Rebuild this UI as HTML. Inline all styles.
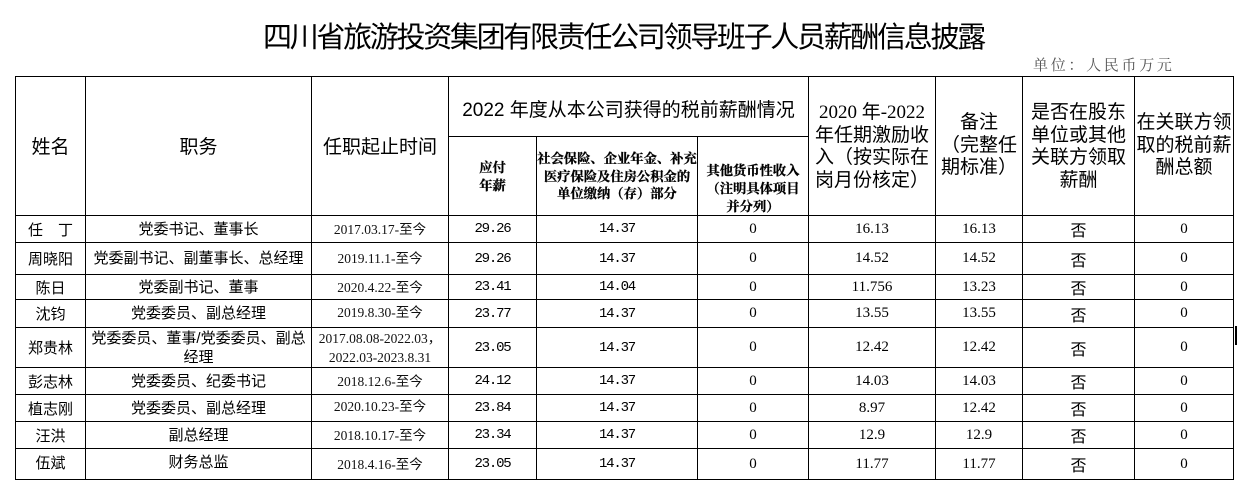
<!DOCTYPE html>
<html>
<head>
<meta charset="utf-8">
<style>
  html,body{margin:0;padding:0;background:#fff;}
  body{width:1240px;height:490px;position:relative;overflow:hidden;
       font-family:"Liberation Sans","Noto Sans CJK SC",sans-serif;color:#000;}
  .c{position:absolute;box-sizing:border-box;border:1px solid #000;
     display:flex;align-items:center;justify-content:center;text-align:center;}
  .h{font-size:19px;line-height:22.5px;}
  .sb{font-family:"Liberation Serif","Noto Serif CJK SC",serif;font-weight:bold;font-size:13.3px;line-height:17.5px;-webkit-text-stroke:0.3px #000;}
  .nm{font-size:15px;}
  .pos{font-size:15px;line-height:19px;white-space:nowrap;}
  .dt{font-family:"Liberation Serif","Noto Sans CJK SC",sans-serif;font-size:13.5px;line-height:19px;color:#111;}
  .mo{font-family:"Liberation Mono",monospace;font-size:14px;letter-spacing:-1.2px;}
  .sf{font-family:"Liberation Serif",serif;font-size:15px;}
  .no{font-family:"Noto Sans CJK SC",sans-serif;font-size:16px;}
  .title{position:absolute;left:263px;top:20px;font-size:29px;line-height:30px;white-space:nowrap;letter-spacing:-2.3px;
         font-family:"Noto Sans CJK SC",sans-serif;}
  .unit{position:absolute;left:1033px;top:55px;font-size:15px;line-height:20px;letter-spacing:2.7px;
        color:#555;white-space:nowrap;font-family:"Noto Serif CJK SC",serif;}
</style>
</head>
<body>
<div class="title">四川省旅游投资集团有限责任公司领导班子人员薪酬信息披露</div>
<div class="unit">单位：人民币万元</div>

<!-- header -->
<div class="c h" style="left:15px;top:76px;width:71px;height:140px;padding-top:4px;">姓名</div>
<div class="c h" style="left:85px;top:76px;width:227px;height:140px;padding-top:4px;">职务</div>
<div class="c h" style="left:311px;top:76px;width:138px;height:140px;padding-top:4px;">任职起止时间</div>
<div class="c h" style="left:448px;top:76px;width:361px;height:61px;padding-top:10px;font-size:19px;">2022 年度从本公司获得的税前薪酬情况</div>
<div class="c sb" style="left:448px;top:136px;width:89px;height:80px;line-height:18px;padding-top:2px;">应付<br>年薪</div>
<div class="c sb" style="left:536px;top:136px;width:162px;height:80px;padding-top:1px;">社会保险、企业年金、补充<br>医疗保险及住房公积金的<br>单位缴纳（存）部分</div>
<div class="c sb" style="left:697px;top:136px;width:112px;height:80px;padding-top:25px;line-height:18px;">其他货币性收入<br>（注明具体项目<br>并分列）</div>
<div class="c h" style="left:808px;top:76px;width:128px;height:140px;font-family:'Liberation Serif','Noto Sans CJK SC',sans-serif;padding-top:2px;">2020 年-2022<br>年任期激励收<br>入（按实际在<br>岗月份核定）</div>
<div class="c h" style="left:935px;top:76px;width:88px;height:140px;">备注<br>（完整任<br>期标准）</div>
<div class="c h" style="left:1022px;top:76px;width:113px;height:140px;padding-top:2px;">是否在股东<br>单位或其他<br>关联方领取<br>薪酬</div>
<div class="c h" style="left:1134px;top:76px;width:100px;height:140px;">在关联方领<br>取的税前薪<br>酬总额</div>

<!-- rows -->
<!-- row1 215-242 -->
<div class="c nm" style="left:15px;top:215px;width:71px;height:28px;">任　丁</div>
<div class="c pos" style="left:85px;top:215px;width:227px;height:28px;">党委书记、董事长</div>
<div class="c dt" style="left:311px;top:215px;width:138px;height:28px;">2017.03.17-至今</div>
<div class="c mo" style="left:448px;top:215px;width:89px;height:28px;">29.26</div>
<div class="c mo" style="left:536px;top:215px;width:162px;height:28px;">14.37</div>
<div class="c sf" style="left:697px;top:215px;width:112px;height:28px;">0</div>
<div class="c sf" style="left:808px;top:215px;width:128px;height:28px;">16.13</div>
<div class="c sf" style="left:935px;top:215px;width:88px;height:28px;">16.13</div>
<div class="c no" style="left:1022px;top:215px;width:113px;height:28px;">否</div>
<div class="c sf" style="left:1134px;top:215px;width:100px;height:28px;">0</div>

<!-- row2 242-274 -->
<div class="c nm" style="left:15px;top:242px;width:71px;height:33px;">周晓阳</div>
<div class="c pos" style="left:85px;top:242px;width:227px;height:33px;">党委副书记、副董事长、总经理</div>
<div class="c dt" style="left:311px;top:242px;width:138px;height:33px;">2019.11.1-至今</div>
<div class="c mo" style="left:448px;top:242px;width:89px;height:33px;">29.26</div>
<div class="c mo" style="left:536px;top:242px;width:162px;height:33px;">14.37</div>
<div class="c sf" style="left:697px;top:242px;width:112px;height:33px;">0</div>
<div class="c sf" style="left:808px;top:242px;width:128px;height:33px;">14.52</div>
<div class="c sf" style="left:935px;top:242px;width:88px;height:33px;">14.52</div>
<div class="c no" style="left:1022px;top:242px;width:113px;height:33px;">否</div>
<div class="c sf" style="left:1134px;top:242px;width:100px;height:33px;">0</div>

<!-- row3 274-299 -->
<div class="c nm" style="left:15px;top:274px;width:71px;height:26px;">陈日</div>
<div class="c pos" style="left:85px;top:274px;width:227px;height:26px;">党委副书记、董事</div>
<div class="c dt" style="left:311px;top:274px;width:138px;height:26px;">2020.4.22-至今</div>
<div class="c mo" style="left:448px;top:274px;width:89px;height:26px;">23.41</div>
<div class="c mo" style="left:536px;top:274px;width:162px;height:26px;">14.04</div>
<div class="c sf" style="left:697px;top:274px;width:112px;height:26px;">0</div>
<div class="c sf" style="left:808px;top:274px;width:128px;height:26px;">11.756</div>
<div class="c sf" style="left:935px;top:274px;width:88px;height:26px;">13.23</div>
<div class="c no" style="left:1022px;top:274px;width:113px;height:26px;">否</div>
<div class="c sf" style="left:1134px;top:274px;width:100px;height:26px;">0</div>

<!-- row4 299-327 -->
<div class="c nm" style="left:15px;top:299px;width:71px;height:29px;">沈钧</div>
<div class="c pos" style="left:85px;top:299px;width:227px;height:29px;">党委委员、副总经理</div>
<div class="c dt" style="left:311px;top:299px;width:138px;height:29px;padding-bottom:3px;">2019.8.30-至今</div>
<div class="c mo" style="left:448px;top:299px;width:89px;height:29px;">23.77</div>
<div class="c mo" style="left:536px;top:299px;width:162px;height:29px;">14.37</div>
<div class="c sf" style="left:697px;top:299px;width:112px;height:29px;">0</div>
<div class="c sf" style="left:808px;top:299px;width:128px;height:29px;">13.55</div>
<div class="c sf" style="left:935px;top:299px;width:88px;height:29px;">13.55</div>
<div class="c no" style="left:1022px;top:299px;width:113px;height:29px;">否</div>
<div class="c sf" style="left:1134px;top:299px;width:100px;height:29px;">0</div>

<!-- row5 327-367 -->
<div class="c nm" style="left:15px;top:327px;width:71px;height:41px;">郑贵林</div>
<div class="c pos" style="left:85px;top:327px;width:227px;height:41px;">党委委员、董事/党委委员、副总<br>经理</div>
<div class="c dt" style="left:311px;top:327px;width:138px;height:41px;">2017.08.08-2022.03，<br>2022.03-2023.8.31</div>
<div class="c mo" style="left:448px;top:327px;width:89px;height:41px;">23.05</div>
<div class="c mo" style="left:536px;top:327px;width:162px;height:41px;">14.37</div>
<div class="c sf" style="left:697px;top:327px;width:112px;height:41px;">0</div>
<div class="c sf" style="left:808px;top:327px;width:128px;height:41px;">12.42</div>
<div class="c sf" style="left:935px;top:327px;width:88px;height:41px;">12.42</div>
<div class="c no" style="left:1022px;top:327px;width:113px;height:41px;">否</div>
<div class="c sf" style="left:1134px;top:327px;width:100px;height:41px;">0</div>

<!-- row6 367-394 -->
<div class="c nm" style="left:15px;top:367px;width:71px;height:28px;">彭志林</div>
<div class="c pos" style="left:85px;top:367px;width:227px;height:28px;">党委委员、纪委书记</div>
<div class="c dt" style="left:311px;top:367px;width:138px;height:28px;">2018.12.6-至今</div>
<div class="c mo" style="left:448px;top:367px;width:89px;height:28px;">24.12</div>
<div class="c mo" style="left:536px;top:367px;width:162px;height:28px;">14.37</div>
<div class="c sf" style="left:697px;top:367px;width:112px;height:28px;">0</div>
<div class="c sf" style="left:808px;top:367px;width:128px;height:28px;">14.03</div>
<div class="c sf" style="left:935px;top:367px;width:88px;height:28px;">14.03</div>
<div class="c no" style="left:1022px;top:367px;width:113px;height:28px;">否</div>
<div class="c sf" style="left:1134px;top:367px;width:100px;height:28px;">0</div>

<!-- row7 394-421 -->
<div class="c nm" style="left:15px;top:394px;width:71px;height:28px;">植志刚</div>
<div class="c pos" style="left:85px;top:394px;width:227px;height:28px;">党委委员、副总经理</div>
<div class="c dt" style="left:311px;top:394px;width:138px;height:28px;padding-bottom:4px;">2020.10.23-至今</div>
<div class="c mo" style="left:448px;top:394px;width:89px;height:28px;">23.84</div>
<div class="c mo" style="left:536px;top:394px;width:162px;height:28px;">14.37</div>
<div class="c sf" style="left:697px;top:394px;width:112px;height:28px;">0</div>
<div class="c sf" style="left:808px;top:394px;width:128px;height:28px;">8.97</div>
<div class="c sf" style="left:935px;top:394px;width:88px;height:28px;">12.42</div>
<div class="c no" style="left:1022px;top:394px;width:113px;height:28px;">否</div>
<div class="c sf" style="left:1134px;top:394px;width:100px;height:28px;">0</div>

<!-- row8 421-448 -->
<div class="c nm" style="left:15px;top:421px;width:71px;height:28px;">汪洪</div>
<div class="c pos" style="left:85px;top:421px;width:227px;height:28px;">副总经理</div>
<div class="c dt" style="left:311px;top:421px;width:138px;height:28px;">2018.10.17-至今</div>
<div class="c mo" style="left:448px;top:421px;width:89px;height:28px;">23.34</div>
<div class="c mo" style="left:536px;top:421px;width:162px;height:28px;">14.37</div>
<div class="c sf" style="left:697px;top:421px;width:112px;height:28px;">0</div>
<div class="c sf" style="left:808px;top:421px;width:128px;height:28px;">12.9</div>
<div class="c sf" style="left:935px;top:421px;width:88px;height:28px;">12.9</div>
<div class="c no" style="left:1022px;top:421px;width:113px;height:28px;">否</div>
<div class="c sf" style="left:1134px;top:421px;width:100px;height:28px;">0</div>

<!-- row9 448-479 -->
<div class="c nm" style="left:15px;top:448px;width:71px;height:32px;padding-bottom:3px;">伍斌</div>
<div class="c pos" style="left:85px;top:448px;width:227px;height:32px;padding-bottom:3px;">财务总监</div>
<div class="c dt" style="left:311px;top:448px;width:138px;height:32px;">2018.4.16-至今</div>
<div class="c mo" style="left:448px;top:448px;width:89px;height:32px;">23.05</div>
<div class="c mo" style="left:536px;top:448px;width:162px;height:32px;">14.37</div>
<div class="c sf" style="left:697px;top:448px;width:112px;height:32px;">0</div>
<div class="c sf" style="left:808px;top:448px;width:128px;height:32px;">11.77</div>
<div class="c sf" style="left:935px;top:448px;width:88px;height:32px;">11.77</div>
<div class="c no" style="left:1022px;top:448px;width:113px;height:32px;">否</div>
<div class="c sf" style="left:1134px;top:448px;width:100px;height:32px;">0</div>

<!-- stray mark -->
<div style="position:absolute;left:1235px;top:326px;width:2px;height:19px;background:#000;"></div>
</body>
</html>
